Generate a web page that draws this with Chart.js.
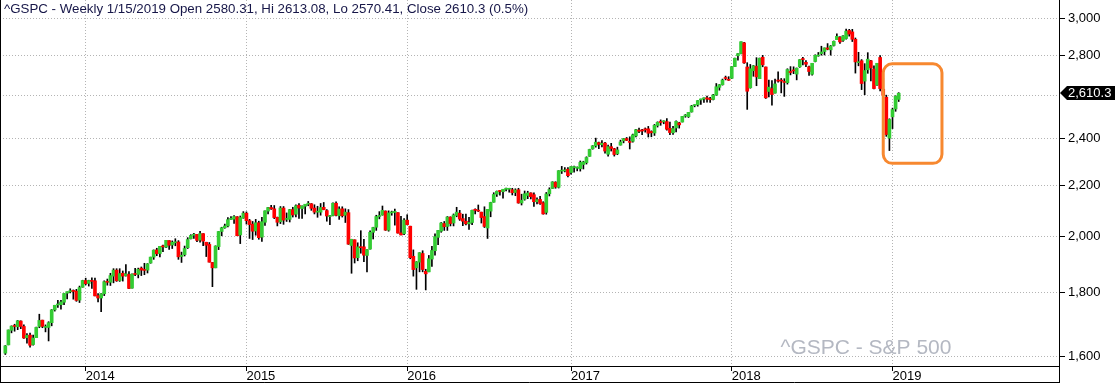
<!DOCTYPE html>
<html><head><meta charset="utf-8">
<script src="https://cdn.jsdelivr.net/npm/chart.js@4"></script>
<style>html,body{margin:0;padding:0;background:#fff;overflow:hidden}canvas{display:block}</style>
</head><body>
<canvas id="c" width="1117" height="383"></canvas>
<script>
// Weekly S&P 500 candles, first week starting 2013-07-01
const firstWeek = '2013-07-01';
const opens = [
1609,1634,1679,1694,1690,1708,1691,1656,1664,1635,1656,1691,1711,1688,1688,1703,1744,1760,1761,1769,1799,1804,1806,1806,1776,1819,1842,
1832,1842,1841,1791,1783,1797,1839,1836,1857,1878,1842,1867,1859,1863,1816,1865,1863,1885,1879,1878,1903,1924,1950,1937,1962,1960,1984,1968,1976,1979,1926,1933,1958,1991,2004,2007,1986,2010,1978,1970,1905,1886,1962,2018,2032,2039,2064,2065,2074,2005,2069,2088,
2059,2046,2020,2051,1997,2053,2096,2110,2105,2072,2055,2108,2064,2064,2102,2084,2119,2106,2115,2123,2125,2108,2092,2092,2111,2098,2075,2079,2127,2078,2105,2080,2090,1966,1987,1922,1961,1961,1930,1953,2015,2034,2075,2081,2096,2023,2089,2091,2090,2013,2010,2061,
2038,1927,1886,1906,1937,1874,1872,1917,1947,1996,2019,2048,2037,2073,2050,2079,2088,2067,2057,2047,2052,2100,2100,2092,2075,2031,2096,2131,2163,2175,2173,2183,2183,2181,2170,2181,2128,2143,2158,2168,2161,2133,2142,2129,2091,2165,2186,2212,2191,2258,2259,2266,
2252,2273,2270,2268,2286,2294,2321,2354,2367,2381,2372,2379,2330,2363,2354,2332,2370,2389,2399,2386,2387,2411,2437,2434,2442,2443,2431,2424,2458,2473,2475,2476,2445,2425,2447,2470,2474,2502,2499,2521,2551,2555,2578,2583,2588,2584,2580,2602,2639,2652,2685,2679,
2684,2743,2799,2810,2867,2741,2637,2722,2745,2682,2791,2741,2619,2633,2611,2671,2675,2668,2662,2718,2725,2705,2742,2783,2765,2742,2704,2769,2798,2810,2821,2840,2830,2853,2884,2896,2880,2890,2934,2926,2886,2763,2773,2670,2727,2773,2731,2650,2790,2630,2591,2401,2498,2535,2580.31
];
const highs = [
1632,1680,1693,1698,1710,1709,1696,1669,1670,1664,1689,1730,1711,1696,1706,1745,1759,1775,1775,1798,1804,1814,1810,1812,1823,1843,1850,
1843,1851,1850,1798,1798,1841,1847,1867,1883,1883,1883,1875,1897,1873,1865,1884,1885,1889,1902,1901,1924,1950,1956,1963,1968,1985,1984,1983,1991,1984,1942,1964,1995,2006,2011,2007,2019,2010,1978,1977,1905,1965,2018,2034,2046,2071,2075,2079,2075,2077,2094,2093,
2064,2056,2064,2057,2072,2097,2111,2119,2118,2073,2114,2114,2089,2103,2111,2121,2126,2117,2123,2134,2126,2121,2115,2126,2130,2102,2080,2129,2133,2113,2113,2105,2102,1989,1987,1976,2021,1989,1951,2020,2034,2080,2094,2116,2097,2097,2096,2104,2090,2076,2067,2082,
2038,1950,1908,1940,1947,1881,1930,1963,2009,2022,2052,2056,2075,2074,2085,2111,2099,2084,2084,2072,2100,2105,2120,2092,2113,2103,2131,2169,2176,2178,2183,2188,2187,2187,2185,2187,2163,2176,2175,2169,2169,2148,2154,2133,2170,2189,2214,2214,2260,2278,2273,2273,
2277,2279,2276,2301,2300,2319,2352,2368,2401,2383,2390,2382,2370,2378,2356,2361,2392,2400,2404,2407,2419,2441,2446,2441,2447,2454,2434,2463,2475,2484,2480,2490,2474,2454,2480,2473,2500,2509,2519,2552,2555,2575,2582,2588,2597,2590,2605,2658,2653,2680,2695,2692,
2743,2787,2810,2873,2870,2763,2754,2749,2789,2787,2801,2741,2675,2672,2680,2717,2683,2682,2732,2743,2742,2736,2779,2791,2774,2746,2760,2804,2816,2849,2840,2863,2853,2877,2916,2900,2906,2941,2940,2940,2893,2817,2779,2758,2815,2775,2747,2760,2800,2685,2601,2489,2539,2598,2613.08
];
const lows = [
1605,1634,1671,1676,1681,1684,1654,1639,1627,1633,1656,1687,1687,1674,1646,1693,1740,1752,1746,1761,1780,1800,1779,1772,1768,1819,1827,
1823,1815,1790,1770,1738,1791,1826,1825,1834,1839,1839,1840,1857,1814,1816,1859,1851,1859,1862,1868,1902,1916,1929,1925,1944,1958,1952,1955,1965,1916,1905,1928,1955,1990,1992,1980,1978,1965,1926,1906,1821,1886,1951,2002,2030,2035,2064,2049,2002,1973,2068,2046,
1992,1988,2004,1989,1981,2041,2085,2103,2067,2039,2048,2045,2056,2054,2073,2073,2068,2068,2085,2117,2099,2085,2072,2080,2101,2057,2044,2077,2077,2064,2073,2052,1970,1867,1903,1911,1938,1908,1872,1953,1990,2022,2066,2080,2022,2019,2080,2042,2012,2005,2006,2043,
1918,1857,1812,1872,1872,1810,1872,1891,1931,1969,2015,2022,2022,2039,2039,2074,2060,2040,2043,2026,2044,2085,2094,2050,2033,1992,2074,2131,2154,2159,2147,2176,2171,2160,2157,2127,2120,2139,2145,2144,2114,2124,2122,2084,2084,2156,2186,2187,2188,2248,2255,2234,
2245,2254,2259,2258,2267,2288,2321,2352,2361,2354,2362,2335,2322,2344,2322,2328,2370,2380,2390,2353,2383,2406,2425,2416,2428,2406,2407,2413,2451,2459,2466,2437,2417,2418,2429,2446,2474,2496,2495,2520,2545,2548,2557,2566,2567,2566,2578,2600,2625,2650,2676,2673,
2683,2743,2776,2808,2759,2533,2635,2694,2647,2682,2742,2585,2593,2553,2610,2665,2612,2595,2655,2701,2707,2676,2739,2752,2742,2698,2699,2767,2796,2802,2803,2830,2802,2850,2884,2864,2874,2886,2903,2874,2710,2747,2628,2603,2709,2671,2631,2649,2621,2583,2409,2346,2444,2524,2570.41
];
const closes = [
1631,1680,1692,1691,1709,1691,1655,1663,1633,1655,1688,1710,1691,1690,1703,1744,1759,1761,1770,1798,1804,1806,1805,1775,1818,1842,1831,
1842,1839,1790,1783,1797,1838,1836,1859,1878,1841,1866,1857,1865,1815,1864,1863,1881,1878,1877,1900,1924,1949,1936,1963,1961,1985,1967,1978,1978,1925,1931,1955,1988,2003,2007,1985,2010,1982,1967,1906,1886,1964,2018,2032,2039,2063,2067,2075,2002,2071,2088,2059,
2044,2019,2051,1995,2055,2097,2110,2105,2071,2053,2108,2061,2067,2102,2081,2117,2108,2116,2123,2126,2107,2092,2094,2110,2102,2077,2077,2127,2080,2104,2078,2092,1971,1989,1921,1961,1958,1931,1951,2015,2033,2075,2079,2099,2023,2089,2090,2092,2012,2005,2061,2044,
1922,1880,1907,1940,1880,1865,1918,1948,1999,2022,2050,2036,2073,2048,2081,2092,2065,2057,2047,2052,2099,2099,2096,2071,2037,2103,2130,2162,2175,2174,2183,2184,2184,2169,2180,2128,2139,2165,2168,2153,2133,2141,2126,2085,2164,2182,2213,2192,2260,2258,2263,2239,
2277,2275,2271,2295,2297,2316,2351,2367,2383,2373,2378,2344,2363,2355,2329,2349,2384,2399,2391,2382,2416,2439,2432,2433,2438,2423,2425,2459,2473,2472,2476,2441,2426,2444,2477,2461,2500,2502,2519,2549,2553,2575,2581,2588,2582,2579,2602,2642,2652,2675,2683,2674,
2743,2786,2810,2873,2762,2620,2732,2747,2691,2786,2752,2588,2640,2604,2656,2670,2670,2663,2728,2713,2721,2735,2779,2779,2755,2718,2760,2801,2802,2819,2840,2833,2850,2875,2902,2872,2904,2930,2914,2886,2767,2768,2658,2723,2781,2736,2633,2760,2633,2600,2417,2486,2532,2596,2610.3
];
const yearLabels = ['2014','2015','2016','2017','2018','2019'];
const priceTicks = [1600,1800,2000,2200,2400,2600,2800,3000];
const titleText = '^GSPC - Weekly 1/15/2019 Open 2580.31, Hi 2613.08, Lo 2570.41, Close 2610.3 (0.5%)';
const watermarkText = '^GSPC - S&P 500';
const highlightWeeks = [284, 303];
const highlightPrices = [2291, 2757];

// view settings
const X_MIN = -1.72, X_MAX = 340.86;
const Y_MIN = 1571, Y_MAX = 3105;
const UP = '#33cc33', DOWN = '#ff0000';
const FONT = "'Liberation Sans', Arial, sans-serif";

const [fy, fm, fd] = firstWeek.split('-').map(Number);
const weekDates = opens.map((_, i) => new Date(fy, fm - 1, fd + 7 * i));
const yearTickIdx = yearLabels.map(lbl => weekDates.findIndex(d => new Date(d.getFullYear(), d.getMonth(), d.getDate() + 4).getFullYear() === Number(lbl)));
const last = closes.length - 1;
const hiddenTick = priceTicks.reduce((a, b) => Math.abs(b - closes[last]) < Math.abs(a - closes[last]) ? b : a);

const bodyData = opens.map((o, i) => ({x: i, y: [o, closes[i]]}));
const wickData = lows.map((l, i) => ({x: i, y: [l, highs[i]]}));
const bodyColors = opens.map((o, i) => closes[i] >= o ? UP : DOWN);

Chart.defaults.font.family = FONT;

const extras = {
  id: 'extras',
  beforeDatasetsDraw(chart) {
    const {ctx, chartArea} = chart;
    ctx.save();
    ctx.font = "21px " + FONT;
    ctx.fillStyle = '#b4b8c2';
    ctx.textAlign = 'center';
    ctx.textBaseline = 'middle';
    ctx.fillText(watermarkText, chartArea.right - 193, chartArea.bottom - 18);
    ctx.restore();
  },
  afterDatasetsDraw(chart) {
    const {ctx} = chart;
    const xs = chart.scales.x, ys = chart.scales.y;
    const x1 = xs.getPixelForValue(highlightWeeks[0]), x2 = xs.getPixelForValue(highlightWeeks[1]);
    const y1 = ys.getPixelForValue(highlightPrices[1]), y2 = ys.getPixelForValue(highlightPrices[0]);
    const r = 9;
    ctx.save();
    ctx.strokeStyle = '#f7882f';
    ctx.lineWidth = 3;
    ctx.beginPath();
    ctx.moveTo(x1 + r, y1);
    ctx.lineTo(x2 - r, y1); ctx.arcTo(x2, y1, x2, y1 + r, r);
    ctx.lineTo(x2, y2 - r); ctx.arcTo(x2, y2, x2 - r, y2, r);
    ctx.lineTo(x1 + r, y2); ctx.arcTo(x1, y2, x1, y2 - r, r);
    ctx.lineTo(x1, y1 + r); ctx.arcTo(x1, y1, x1 + r, y1, r);
    ctx.closePath();
    ctx.stroke();
    ctx.restore();
  },
  afterDraw(chart) {
    const {ctx, chartArea, width, height} = chart;
    ctx.save();
    // frame
    ctx.strokeStyle = '#000';
    ctx.lineWidth = 1;
    ctx.beginPath();
    ctx.moveTo(0.5, 0); ctx.lineTo(0.5, height);
    ctx.moveTo(0, height - 0.5); ctx.lineTo(Math.round(chartArea.right) + 0.5, height - 0.5);
    ctx.moveTo(Math.round(chartArea.right) + 0.5, chartArea.bottom); ctx.lineTo(Math.round(chartArea.right) + 0.5, height);
    ctx.stroke();
    // title
    ctx.font = "13.3px " + FONT;
    ctx.fillStyle = '#161648';
    ctx.textAlign = 'left';
    ctx.textBaseline = 'middle';
    ctx.fillText(titleText, 4, 9);
    // last price tag
    const ys = chart.scales.y;
    const y = Math.round(ys.getPixelForValue(closes[last]));
    const x0 = Math.round(chartArea.right) + 1;
    ctx.fillStyle = '#000';
    ctx.beginPath();
    ctx.moveTo(x0, y);
    ctx.lineTo(x0 + 7, y - 7);
    ctx.lineTo(x0 + 55, y - 7);
    ctx.lineTo(x0 + 55, y + 7);
    ctx.lineTo(x0 + 7, y + 7);
    ctx.closePath();
    ctx.fill();
    ctx.fillStyle = '#fff';
    ctx.font = "13px " + FONT;
    ctx.fillText(closes[last].toLocaleString('en-US', {minimumFractionDigits: 1, maximumFractionDigits: 2}), x0 + 8, y + 0.5);
    ctx.restore();
  }
};

new Chart(document.getElementById('c'), {
  type: 'bar',
  data: {
    datasets: [
      {label: 'body', data: bodyData, backgroundColor: bodyColors, borderWidth: 0, grouped: false,
       barThickness: 3, maxBarThickness: 3, minBarLength: 1},
      {label: 'wick', data: wickData, backgroundColor: '#000', borderWidth: 0, grouped: false,
       barThickness: 1, maxBarThickness: 1}
    ]
  },
  options: {
    responsive: false,
    animation: false,
    devicePixelRatio: 1,
    events: [],
    layout: {padding: 0},
    plugins: {legend: {display: false}, tooltip: {enabled: false}, title: {display: false}},
    scales: {
      x: {
        type: 'linear', position: 'bottom', min: X_MIN, max: X_MAX, offset: false,
        afterBuildTicks: s => { s.ticks = yearTickIdx.map(v => ({value: v})); },
        afterFit: s => { s.height = 17; s.paddingLeft = 0; s.paddingRight = 0; },
        ticks: {
          autoSkip: false, maxRotation: 0, minRotation: 0, align: 'start', padding: -2,
          color: '#000', font: {size: 13, family: FONT},
          callback: v => yearLabels[yearTickIdx.indexOf(v)] || ''
        },
        grid: {color: '#b4b4b4', tickColor: '#000', tickLength: 5, lineWidth: 1, offset: false},
        border: {display: true, color: '#000', width: 1, dash: [1, 2]}
      },
      y: {
        type: 'logarithmic', position: 'right', min: Y_MIN, max: Y_MAX,
        afterBuildTicks: s => { s.ticks = priceTicks.map(v => ({value: v})); },
        afterFit: s => { s.width = 58; s.paddingTop = 0; s.paddingBottom = 0; },
        ticks: {
          color: '#000', font: {size: 13, family: FONT}, padding: 3,
          callback: v => v === hiddenTick ? '' : Number(v).toLocaleString('en-US')
        },
        grid: {color: '#b4b4b4', tickLength: 6, lineWidth: 1,
               tickColor: c => (c.tick && c.tick.value === hiddenTick) ? 'rgba(0,0,0,0)' : '#000'},
        border: {display: true, color: '#000', width: 1, dash: [1, 2]}
      }
    }
  },
  plugins: [extras]
});
</script>
</body></html>
